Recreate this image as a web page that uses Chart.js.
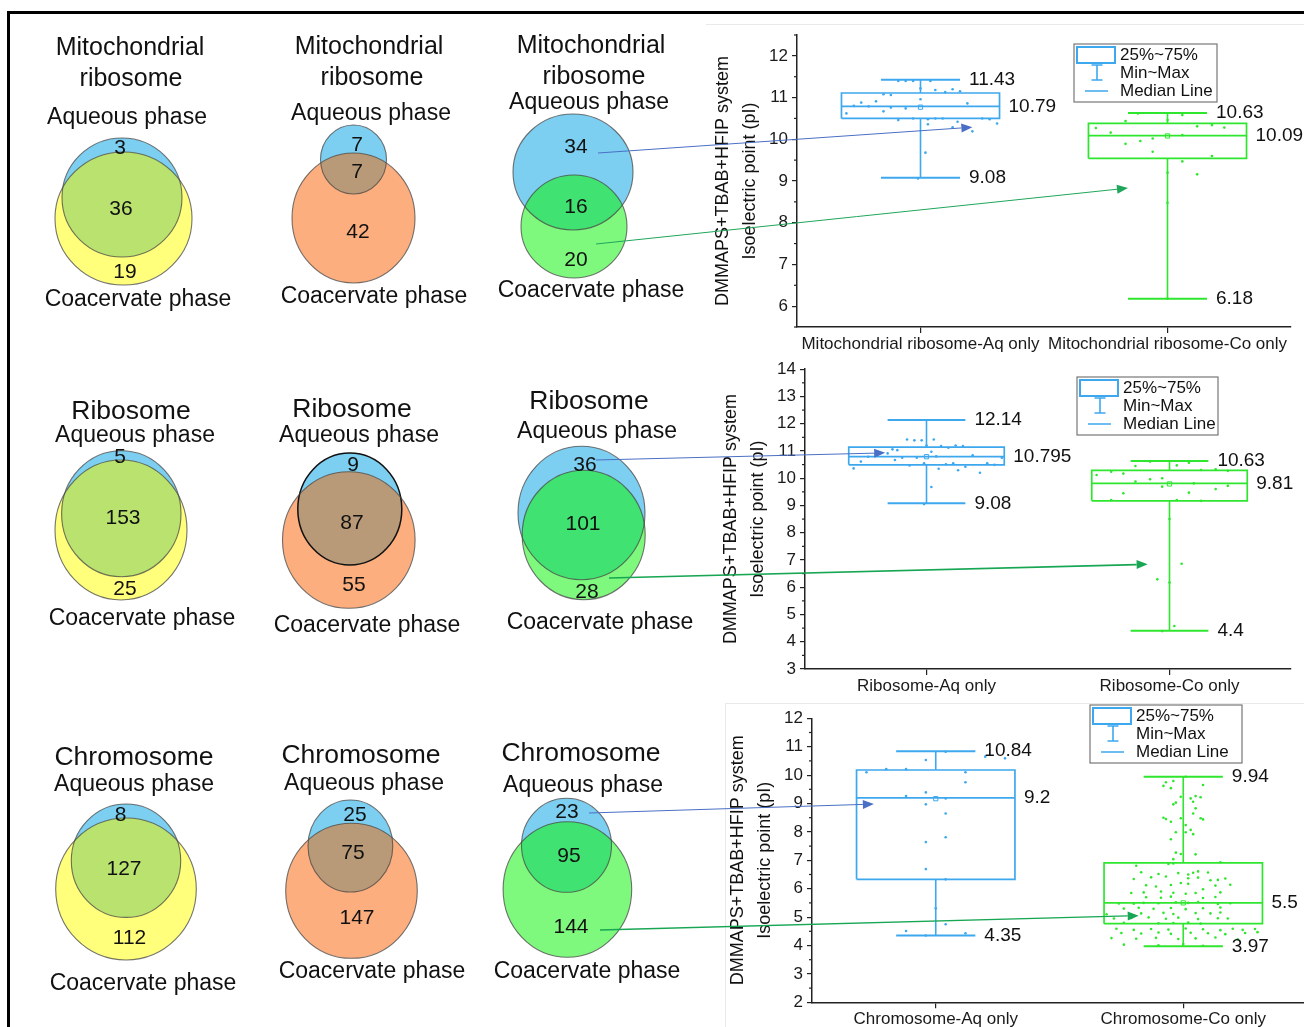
<!DOCTYPE html>
<html>
<head>
<meta charset="utf-8">
<script src="https://cdn.jsdelivr.net/npm/chart.js@4.4.1/dist/chart.umd.min.js"></script>
<style>
  html, body { margin: 0; padding: 0; background: #fff; width: 1304px; height: 1027px; overflow: hidden; }
  .frame { position: absolute; left: 7px; top: 11px; width: 1400px; height: 1100px; border-top: 3px solid #000; border-left: 3px solid #000; }
  .faint { position: absolute; background: #e9e9e9; }
  canvas { position: absolute; }
</style>
</head>
<body>
<div class="frame"></div>
<div class="faint" style="left:706px; top:24px; width:598px; height:1px"></div>
<div class="faint" style="left:725px; top:703px; width:579px; height:1px"></div>
<div class="faint" style="left:725px; top:703px; width:1px; height:324px"></div>
<canvas id="box1"></canvas>
<canvas id="box2"></canvas>
<canvas id="box3"></canvas>
<canvas id="venn" style="z-index:5"></canvas>
<script>
// --- VENN COUNTS (columns left -> right) ---
const vennTitles = [['Mitochondrial', 'ribosome'], ['Ribosome'], ['Chromosome']];
const mitoAqOnly = [3, 7, 34];
const mitoShared = [36, 7, 16];
const mitoCoOnly = [19, 42, 20];
const riboAqOnly = [5, 9, 36];
const riboShared = [153, 87, 101];
const riboCoOnly = [25, 55, 28];
const chromAqOnly = [8, 25, 23];
const chromShared = [127, 75, 95];
const chromCoOnly = [112, 147, 144];

// --- BOX PLOTS: isoelectric point, [Aq only, Co only] ---
const mitoCats = ['Mitochondrial ribosome-Aq only', 'Mitochondrial ribosome-Co only'];
const mitoTicks = [6, 7, 8, 9, 10, 11, 12];
const mitoMin = [9.08, 6.18];
const mitoQ1 = [10.50, 9.54];
const mitoMedian = [10.79, 10.09];
const mitoQ3 = [11.11, 10.38];
const mitoMax = [11.43, 10.63];
const mitoMean = [10.77, 10.08];
const mitoAqPI = [11.40, 11.40, 11.40, 11.40, 11.22, 11.18, 11.13, 11.20, 11.15, 11.08, 11.06, 10.96, 10.91, 10.88, 10.80, 10.79, 10.62, 10.76, 10.74, 10.86, 10.67, 10.46, 10.50, 10.48, 10.50, 10.50, 10.42, 10.50, 10.48, 10.38, 10.36, 10.29, 10.19, 9.68, 9.06];
const mitoCoPI = [10.62, 10.58, 10.46, 10.44, 10.27, 10.31, 10.34, 10.28, 10.16, 10.02, 9.96, 9.89, 9.70, 9.60, 9.47, 9.20, 9.16, 8.48, 6.18, 10.10];

const riboCats = ['Ribosome-Aq only', 'Ribosome-Co only'];
const riboTicks = [3, 4, 5, 6, 7, 8, 9, 10, 11, 12, 13, 14];
const riboMin = [9.08, 4.4];
const riboQ1 = [10.49, 9.17];
const riboMedian = [10.795, 9.81];
const riboQ3 = [11.14, 10.29];
const riboMax = [12.14, 10.63];
const riboMean = [10.79, 9.79];
const riboAqPI = [11.42, 11.39, 11.39, 11.42, 11.20, 11.18, 11.12, 11.20, 11.18, 11.06, 11.03, 10.91, 10.93, 10.90, 10.79, 10.97, 10.61, 10.36, 10.67, 10.75, 10.75, 10.84, 10.47, 10.55, 10.51, 10.55, 10.42, 10.55, 10.49, 10.75, 10.35, 10.29, 10.20, 9.68, 9.05, 10.80];
const riboCoPI = [10.61, 10.57, 10.45, 10.47, 10.30, 10.33, 10.27, 10.12, 10.24, 10.17, 9.88, 9.96, 10.00, 9.69, 9.72, 9.45, 9.47, 9.60, 9.20, 9.20, 9.17, 8.50, 6.86, 6.29, 6.17, 4.58, 4.39, 9.81];

const chromCats = ['Chromosome-Aq only', 'Chromosome-Co only'];
const chromTicks = [2, 3, 4, 5, 6, 7, 8, 9, 10, 11, 12];
const chromMin = [4.35, 3.97];
const chromQ1 = [6.33, 4.77];
const chromMedian = [9.2, 5.5];
const chromQ3 = [10.18, 6.91];
const chromMax = [10.84, 9.94];
const chromMean = [9.17, 5.5];
const chromAqPI = [10.53, 10.82, 10.21, 10.21, 10.10, 10.10, 9.75, 9.39, 9.26, 9.18, 8.97, 8.65, 7.81, 7.64, 6.69, 6.33, 5.31, 4.75, 4.51, 4.35, 4.43, 10.65, 10.59];
const chromCoPI = [
  9.94, 9.75, 9.79, 9.62, 9.54, 9.65, 9.24, 9.18, 9.06, 9.26, 9.22, 8.97, 9.03, 8.83, 8.65, 8.50, 8.45,
  8.36, 8.48, 8.48, 8.44, 8.24, 8.07, 7.99, 7.92, 7.99, 7.74, 7.27, 7.22, 7.21, 7.04, 6.87, 6.89, 6.93,
  6.81,
  6.58, 6.52, 6.55, 6.50, 6.56, 6.61, 6.57,
  6.34, 6.40, 6.43, 6.37, 6.39, 6.30, 6.31, 6.36,
  6.12, 6.08, 6.13, 6.20, 6.17, 5.98, 6.11, 6.14,
  5.85, 5.87, 5.90, 5.86, 5.82, 5.85, 5.87,
  5.70, 5.68, 5.72, 5.67, 5.71,
  5.48, 5.47, 5.50, 5.49, 5.52, 5.50, 5.53, 5.46, 5.49,
  5.30, 5.33, 5.29, 5.32, 5.28, 5.31, 5.34,
  5.10, 5.13, 5.15, 5.11, 5.14, 5.13, 5.16,
  4.95, 4.97, 4.99, 4.94, 4.98, 4.93, 4.96, 4.95,
  4.80, 4.78, 4.79, 4.81, 4.77,
  4.59, 4.55, 4.58, 4.56, 4.60, 4.57, 4.54, 4.59, 4.55, 4.58,
  4.44, 4.42, 4.46, 4.41, 4.45, 4.43, 4.40, 4.44, 4.47,
  4.26, 4.24, 4.27, 4.23, 4.25, 4.28, 4.22,
  4.03, 4.01, 4.05, 3.99
];

// horizontal jitter of the dots, in category widths (layout only)
const mitoAqJit = [-0.09, -0.06, -0.03, 0.04, 0.00, 0.06, 0.10, 0.13, 0.16, -0.15, -0.12, 0.00, -0.18, -0.24, -0.27, -0.21, -0.30, -0.12, -0.06, 0.19, -0.15, -0.09, -0.03, 0.03, 0.06, 0.09, 0.15, 0.25, 0.28, 0.31, 0.03, 0.13, 0.21, 0.02, -0.01];
const mitoCoJit = [-0.12, 0.06, 0.00, -0.17, -0.29, 0.12, 0.18, 0.23, -0.23, -0.06, -0.11, -0.17, -0.06, 0.18, 0.06, 0.00, 0.12, 0.00, 0.00, 0.06];
const riboAqJit = [-0.08, -0.05, -0.02, 0.03, 0.00, 0.06, 0.09, 0.12, 0.15, -0.14, -0.12, -0.16, -0.19, -0.21, -0.24, 0.02, -0.27, -0.30, -0.13, -0.10, -0.04, 0.19, -0.07, -0.01, 0.08, 0.11, 0.16, 0.25, 0.28, 0.31, 0.05, 0.13, 0.22, 0.02, -0.01, 0.04];
const riboCoJit = [-0.08, 0.08, -0.14, 0.03, 0.13, 0.19, 0.24, -0.30, -0.24, -0.19, -0.14, -0.08, -0.03, -0.03, 0.24, -0.19, 0.08, 0.19, -0.24, 0.03, 0.13, 0.00, 0.05, -0.05, 0.00, 0.02, -0.03, 0.10];
const chromAqJit = [-0.04, 0.04, -0.20, -0.12, -0.28, 0.12, 0.12, -0.04, -0.12, 0.04, -0.04, 0.04, 0.04, -0.04, -0.04, 0.04, 0.00, 0.04, -0.12, -0.04, 0.12, 0.20, 0.28];
const chromCoJit = [
  0.01, -0.07, -0.04, -0.08, -0.05, 0.08, -0.01, 0.03, 0.04, 0.05, 0.07, -0.04, -0.03, 0.05, 0.04, -0.08, -0.07,
  -0.05, -0.01, 0.07, 0.08, 0.01, 0.03, 0.01, 0.04, -0.03, -0.05, -0.03, -0.01, 0.05, -0.04, -0.06, -0.04, 0.15,
  -0.19,
  -0.17, -0.10, -0.02, 0.02, 0.04, 0.06, 0.10,
  -0.20, -0.13, -0.07, 0.02, 0.06, 0.11, 0.14, 0.17,
  -0.15, -0.11, -0.05, -0.01, 0.02, 0.08, 0.13, 0.19,
  -0.21, -0.16, -0.09, -0.04, 0.01, 0.05, 0.15,
  -0.15, -0.09, -0.05, 0.08, 0.13,
  -0.26, -0.20, -0.16, -0.10, -0.03, 0.02, 0.06, 0.14, 0.19,
  -0.24, -0.18, -0.12, -0.05, 0.01, 0.08, 0.15,
  -0.31, -0.17, -0.08, -0.04, 0.05, 0.11, 0.15,
  -0.28, -0.21, -0.14, -0.07, -0.02, 0.06, 0.14, 0.18,
  -0.24, -0.10, -0.04, 0.02, 0.07,
  -0.27, -0.20, -0.13, -0.06, 0.01, 0.08, 0.15, 0.20, 0.24, 0.29,
  -0.25, -0.17, -0.10, -0.05, 0.03, 0.10, 0.17, 0.25, 0.30,
  -0.29, -0.19, -0.11, -0.02, 0.05, 0.13, 0.22,
  -0.24, -0.10, 0.00, 0.08
];

const FONT = '"Liberation Sans", Arial, Helvetica, sans-serif';
const AQ_BLUE = '#3ea8ef';
const CO_GREEN = '#2fe62f';
const yTitle = ['DMMAPS+TBAB+HFIP system', 'Isoelectric point (pI)'];

// --- BOX PLOT BUILDING ---
function boxDatasets(p) {
    const colors = [AQ_BLUE, CO_GREEN];
    const HB = 0.32, HC = 0.16; // half box / half cap width in category units
    const s = p.stats;
    const ds = [];
    for (let i = 0; i < 2; i++) {
        const c = colors[i];
        const line = (data, w) => ({ data, showLine: true, borderColor: c, borderWidth: w, pointRadius: 0, fill: false, tension: 0 });
        ds.push(line([{x: i - HB, y: s.q1[i]}, {x: i + HB, y: s.q1[i]}, {x: i + HB, y: s.q3[i]}, {x: i - HB, y: s.q3[i]}, {x: i - HB, y: s.q1[i]}], 1.7));
        ds.push(line([{x: i - HB, y: s.med[i]}, {x: i + HB, y: s.med[i]}], 1.7));
        ds.push(line([{x: i, y: s.q3[i]}, {x: i, y: s.max[i]}], 1.6));
        ds.push(line([{x: i, y: s.q1[i]}, {x: i, y: s.min[i]}], 1.6));
        ds.push(line([{x: i - HC, y: s.max[i]}, {x: i + HC, y: s.max[i]}], 2));
        ds.push(line([{x: i - HC, y: s.min[i]}, {x: i + HC, y: s.min[i]}], 2));
        ds.push({ data: [{x: i, y: s.mean[i]}], pointStyle: 'rect', pointRadius: 3, borderColor: c, backgroundColor: 'rgba(255,255,255,0)', borderWidth: 1 });
        const [vals, jit] = p.points[i];
        ds.push({ data: vals.map((v, k) => ({x: i + jit[k], y: v})), pointRadius: 1.3, backgroundColor: c, borderWidth: 0 });
    }
    return ds;
}

function boxExtras(p) {
    return {
        id: 'boxExtras',
        afterDraw(chart) {
            const ctx = chart.ctx, xs = chart.scales.x, ys = chart.scales.y, ca = chart.chartArea;
            ctx.save();
            // minor ticks
            ctx.strokeStyle = '#222'; ctx.lineWidth = 1.2;
            for (let v = p.yMin; v <= p.yMax + 1e-9; v += 0.5) {
                if (Number.isInteger(v)) continue;
                const y = ys.getPixelForValue(v);
                ctx.beginPath(); ctx.moveTo(ca.left, y); ctx.lineTo(ca.left - 3, y); ctx.stroke();
            }
            // axis title (two lines)
            ctx.fillStyle = '#111'; ctx.font = '18px ' + FONT;
            ctx.textAlign = 'center'; ctx.textBaseline = 'middle';
            const my = (ca.top + ca.bottom) / 2;
            [[yTitle[0], -74], [yTitle[1], -47]].forEach(([t, dx]) => {
                ctx.save(); ctx.translate(ca.left + dx, my); ctx.rotate(-Math.PI / 2); ctx.fillText(t, 0, 0); ctx.restore();
            });
            // value labels
            ctx.font = '19px ' + FONT; ctx.textAlign = 'left';
            const s = p.stats;
            for (let i = 0; i < 2; i++) {
                const capR = xs.getPixelForValue(i + 0.16), boxR = xs.getPixelForValue(i + 0.32);
                ctx.fillText(String(s.max[i]), capR + 9, ys.getPixelForValue(s.max[i]));
                ctx.fillText(String(s.med[i]), boxR + 9, ys.getPixelForValue(s.med[i]));
                ctx.fillText(String(s.min[i]), capR + 9, ys.getPixelForValue(s.min[i]));
            }
            // legend
            const lx = p.legend[0] - p.left, ly = p.legend[1] - p.top, lw = p.legend[2], lh = p.legend[3];
            ctx.fillStyle = '#fff'; ctx.fillRect(lx, ly, lw, lh);
            ctx.strokeStyle = '#777'; ctx.lineWidth = 1.2; ctx.strokeRect(lx, ly, lw, lh);
            ctx.strokeStyle = AQ_BLUE; ctx.lineWidth = 2; ctx.strokeRect(lx + 3, ly + 3, 38, 16);
            ctx.lineWidth = 1.6;
            ctx.beginPath();
            ctx.moveTo(lx + 23, ly + 21); ctx.lineTo(lx + 23, ly + 36);
            ctx.moveTo(lx + 17.5, ly + 21); ctx.lineTo(lx + 28.5, ly + 21);
            ctx.moveTo(lx + 17.5, ly + 36); ctx.lineTo(lx + 28.5, ly + 36);
            ctx.moveTo(lx + 11, ly + 47); ctx.lineTo(lx + 34, ly + 47);
            ctx.stroke();
            ctx.fillStyle = '#111'; ctx.font = '17px ' + FONT;
            ctx.fillText('25%~75%', lx + 46, ly + 11);
            ctx.fillText('Min~Max', lx + 46, ly + 29);
            ctx.fillText('Median Line', lx + 46, ly + 47.5);
            ctx.restore();
        }
    };
}

function makeBox(id, p) {
    const cv = document.getElementById(id);
    cv.width = p.w; cv.height = p.h;
    cv.style.left = p.left + 'px'; cv.style.top = p.top + 'px';
    return new Chart(cv, {
        type: 'scatter',
        data: { datasets: boxDatasets(p) },
        options: {
            responsive: false, animation: false, events: [],
            layout: { padding: p.pad },
            plugins: { legend: { display: false }, tooltip: { enabled: false } },
            scales: {
                x: {
                    type: 'linear', min: -0.5, max: 1.5,
                    afterBuildTicks: sc => { sc.ticks = [{value: 0}, {value: 1}]; },
                    afterFit: sc => { sc.height = p.xh; },
                    ticks: { callback: v => p.cats[v], autoSkip: false, maxRotation: 0, padding: 1, color: '#1a1a1a', font: { family: FONT, size: 17 } },
                    grid: { drawOnChartArea: false, tickLength: 6, color: '#222', lineWidth: 1.2 },
                    border: { color: '#222', width: 1.5 }
                },
                y: {
                    type: 'linear', min: p.yMin, max: p.yMax,
                    afterBuildTicks: sc => { sc.ticks = p.yTicks.map(v => ({value: v})); },
                    afterFit: sc => { sc.width = p.yw; },
                    ticks: { padding: 4, color: '#1a1a1a', font: { family: FONT, size: 17 } },
                    grid: { drawOnChartArea: false, tickLength: 5, color: '#222', lineWidth: 1.2 },
                    border: { color: '#222', width: 1.5 }
                }
            }
        },
        plugins: [boxExtras(p)]
    });
}

const panels = [
    { left: 700, top: 20, w: 604, h: 335, pad: {left: 0, top: 15, right: 13, bottom: 0}, yw: 97, xh: 28,
      yMin: 5.5, yMax: 12.5, yTicks: mitoTicks, cats: mitoCats, legend: [1074, 44, 143, 58],
      stats: { min: mitoMin, q1: mitoQ1, med: mitoMedian, q3: mitoQ3, max: mitoMax, mean: mitoMean },
      points: [[mitoAqPI, mitoAqJit], [mitoCoPI, mitoCoJit]] },
    { left: 700, top: 355, w: 604, h: 345, pad: {left: 0, top: 12.7, right: 13, bottom: 0}, yw: 105, xh: 31,
      yMin: 3, yMax: 14, yTicks: riboTicks, cats: riboCats, legend: [1077, 377, 141, 58],
      stats: { min: riboMin, q1: riboQ1, med: riboMedian, q3: riboQ3, max: riboMax, mean: riboMean },
      points: [[riboAqPI, riboAqJit], [riboCoPI, riboCoJit]] },
    { left: 700, top: 700, w: 612, h: 327, pad: {left: 0, top: 18.3, right: 4, bottom: 0}, yw: 112, xh: 24.7,
      yMin: 2, yMax: 12, yTicks: chromTicks, cats: chromCats, legend: [1090, 705, 152, 58],
      stats: { min: chromMin, q1: chromQ1, med: chromMedian, q3: chromQ3, max: chromMax, mean: chromMean },
      points: [[chromAqPI, chromAqJit], [chromCoPI, chromCoJit]] }
];
const boxCharts = panels.map((p, i) => makeBox('box' + (i + 1), p));

// --- VENN LAYOUT (page px: ellipse cx, cy, rx, ry; text centres) ---
const vennCounts = [
    [mitoAqOnly, mitoShared, mitoCoOnly],
    [riboAqOnly, riboShared, riboCoOnly],
    [chromAqOnly, chromShared, chromCoOnly]
];
const vennFill = [
    { co: '#ffff7c', both: '#b9e26f' },
    { co: '#fcae7e', both: '#b99a78' },
    { co: '#7ef97e', both: '#40e272' }
];
const AQ_FILL = '#7ccff0';
const vennGeo = [
    [
        { aq: [122, 197.5, 60, 59.5], co: [123.5, 218.5, 68.5, 66.5], n: [[120, 148], [121, 209], [125, 272]], t: [[130, 48], [131, 79]], aqL: [127, 118], coL: [138, 300] },
        { aq: [353.5, 159.5, 33, 34.5], co: [353.5, 218, 61.5, 65], n: [[357, 145], [357, 172], [358, 232]], t: [[369, 47], [372, 78]], aqL: [371, 114], coL: [374, 297] },
        { aq: [573, 172, 60, 58], co: [574, 226.5, 53, 51.5], n: [[576, 147], [576, 207], [576, 260]], t: [[591, 46], [594, 77]], aqL: [589, 103], coL: [591, 291] }
    ],
    [
        { aq: [121.3, 513.7, 59.7, 63], co: [121, 530, 66, 70], n: [[120, 457], [123, 518], [125, 589]], t: [[131, 412]], aqL: [135, 436], coL: [142, 619] },
        { aq: [349.8, 509, 52, 56], co: [348.8, 540, 66.3, 68.3], n: [[353, 465], [352, 523], [354, 585]], t: [[352, 410]], aqL: [359, 436], coL: [367, 626], dark: true },
        { aq: [581.5, 513, 63.5, 66.7], co: [583.7, 535, 61.5, 64.7], n: [[585, 465], [583, 524], [587, 592]], t: [[589, 402]], aqL: [597, 432], coL: [600, 623] }
    ],
    [
        { aq: [126, 860.7, 54.7, 56.7], co: [126, 889, 70.3, 71], n: [[120.5, 815], [124, 869], [129.5, 938]], t: [[134, 758]], aqL: [134, 785], coL: [143, 984] },
        { aq: [350.4, 846, 42.4, 46], co: [351.5, 890.8, 65.8, 67.5], n: [[355, 815], [353, 853], [357, 918]], t: [[361, 756]], aqL: [364, 784], coL: [372, 972] },
        { aq: [566.5, 845.3, 45, 47], co: [567.4, 889.5, 64.3, 67.8], n: [[567, 812], [569, 856], [571, 927]], t: [[581, 754]], aqL: [583, 786], coL: [587, 972] }
    ]
];

// arrows: start near the Venn number (page px), end in the box plot's own data units
const arrows = [
    { panel: 0, from: [598, 153], to: [0.21, 10.29], color: '#4a6fc4', w: 1 },
    { panel: 0, from: [596, 244], to: [0.84, 8.83], color: '#1fa65a', w: 1 },
    { panel: 1, from: [596, 460], to: [-0.17, 10.93], color: '#4a6fc4', w: 1 },
    { panel: 1, from: [609, 578], to: [0.91, 6.84], color: '#17a653', w: 1.6 },
    { panel: 2, from: [589, 813], to: [-0.25, 8.98], color: '#4a6fc4', w: 1 },
    { panel: 2, from: [600, 930], to: [0.82, 5.05], color: '#17a653', w: 1.3 }
];

const vennPlugin = {
    id: 'venn',
    afterDraw(chart) {
        const ctx = chart.ctx, xs = chart.scales.x, ys = chart.scales.y;
        const px = v => xs.getPixelForValue(v), py = v => ys.getPixelForValue(v);
        const ell = e => {
            ctx.beginPath();
            ctx.ellipse(px(e[0]), py(e[1]), Math.abs(px(e[0] + e[2]) - px(e[0])), Math.abs(py(e[1] + e[3]) - py(e[1])), 0, 0, Math.PI * 2);
        };
        ctx.save();
        vennGeo.forEach((row, r) => row.forEach((g, c) => {
            ell(g.aq); ctx.fillStyle = AQ_FILL; ctx.fill();
            ell(g.co); ctx.fillStyle = vennFill[c].co; ctx.fill();
            ctx.save(); ell(g.aq); ctx.clip(); ell(g.co); ctx.fillStyle = vennFill[c].both; ctx.fill(); ctx.restore();
            ell(g.aq); ctx.strokeStyle = g.dark ? '#111' : 'rgba(70,70,70,0.75)'; ctx.lineWidth = g.dark ? 1.5 : 1.1; ctx.stroke();
            ell(g.co); ctx.strokeStyle = 'rgba(70,70,70,0.75)'; ctx.lineWidth = 1.1; ctx.stroke();

            ctx.fillStyle = '#111'; ctx.textAlign = 'center'; ctx.textBaseline = 'middle';
            ctx.font = '21px ' + FONT;
            g.n.forEach((pt, k) => ctx.fillText(String(vennCounts[r][k][c]), px(pt[0]), py(pt[1])));
            ctx.font = (r === 0 ? '25px ' : '26.5px ') + FONT;
            g.t.forEach((pt, k) => ctx.fillText(vennTitles[r][k], px(pt[0]), py(pt[1])));
            ctx.font = '23px ' + FONT;
            ctx.fillText('Aqueous phase', px(g.aqL[0]), py(g.aqL[1]));
            ctx.fillText('Coacervate phase', px(g.coL[0]), py(g.coL[1]));
        }));

        // arrows into the box plots
        arrows.forEach(a => {
            const p = panels[a.panel], bc = boxCharts[a.panel];
            const x0 = px(a.from[0]), y0 = py(a.from[1]);
            const x1 = px(p.left + bc.scales.x.getPixelForValue(a.to[0]));
            const y1 = py(p.top + bc.scales.y.getPixelForValue(a.to[1]));
            const ang = Math.atan2(y1 - y0, x1 - x0), L = 11, Wd = 4.5;
            const bx = x1 - L * Math.cos(ang), by = y1 - L * Math.sin(ang);
            ctx.strokeStyle = a.color; ctx.fillStyle = a.color; ctx.lineWidth = a.w;
            ctx.beginPath(); ctx.moveTo(x0, y0); ctx.lineTo(bx, by); ctx.stroke();
            ctx.beginPath();
            ctx.moveTo(x1, y1);
            ctx.lineTo(bx + Wd * Math.sin(ang), by - Wd * Math.cos(ang));
            ctx.lineTo(bx - Wd * Math.sin(ang), by + Wd * Math.cos(ang));
            ctx.closePath(); ctx.fill();
        });
        ctx.restore();
    }
};

const vc = document.getElementById('venn');
vc.width = 1304; vc.height = 1027;
vc.style.left = '0px'; vc.style.top = '0px';
new Chart(vc, {
    type: 'scatter',
    data: { datasets: [] },
    options: {
        responsive: false, animation: false, events: [],
        layout: { padding: 0 },
        plugins: { legend: { display: false }, tooltip: { enabled: false } },
        scales: {
            x: { type: 'linear', display: false, min: 0, max: 1304 },
            y: { type: 'linear', display: false, min: 0, max: 1027, reverse: true }
        }
    },
    plugins: [vennPlugin]
});
</script>
</body>
</html>
